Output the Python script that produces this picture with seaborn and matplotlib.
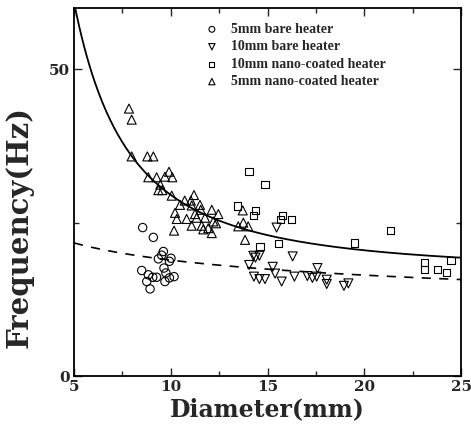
import numpy as np
import pandas as pd
import matplotlib
matplotlib.use('Agg')
import matplotlib.pyplot as plt
from matplotlib.ticker import MultipleLocator
import seaborn as sns

# 5mm bare heater (circles)
bare5_d = [8.55, 9.10, 9.62, 9.53, 9.36, 10.01, 9.93, 8.50, 8.84, 9.07,
           9.27, 9.65, 9.75, 10.17, 9.93, 8.76, 9.70, 8.93]
bare5_f = [24.2, 22.6, 20.3, 19.7, 19.1, 19.2, 18.7, 17.2, 16.5, 16.1,
           16.1, 17.6, 16.8, 16.2, 16.0, 15.4, 15.4, 14.2]

# 10mm bare heater (down triangles)
bare10_d = [15.47, 14.27, 14.38, 14.58, 16.30, 14.05, 15.27, 15.39, 14.30, 14.58,
            14.87, 15.73, 16.39, 17.06, 17.32, 17.58, 17.54, 18.06, 18.06, 18.95, 19.18]
bare10_f = [24.2, 19.6, 19.3, 19.6, 19.5, 18.1, 17.8, 16.7, 16.2, 15.8,
            15.8, 15.4, 16.2, 16.3, 16.0, 17.6, 16.2, 15.7, 15.0, 14.7, 15.1]

# 10mm nano-coated heater (squares)
nano10_d = [14.04, 14.87, 13.46, 14.39, 14.27, 15.78, 15.68, 16.25, 14.61, 15.56,
            19.50, 21.37, 23.10, 23.10, 23.80, 24.26, 24.48]
nano10_f = [33.3, 31.2, 27.7, 27.0, 26.2, 26.2, 25.5, 25.5, 21.1, 21.6,
            21.7, 23.7, 18.5, 17.4, 17.4, 16.9, 18.8]

# 5mm nano-coated heater (up triangles)
nano5_d = [7.84, 7.98, 7.98, 8.79, 9.10, 8.84, 9.27, 9.70, 9.91, 10.08,
           9.46, 9.36, 9.56, 10.05, 11.20, 10.72, 11.04, 10.48, 11.51, 11.08,
           11.55, 12.12, 10.22, 11.25, 12.46, 10.31, 10.82, 11.34, 11.77, 12.20,
           12.34, 11.08, 11.60, 11.94, 11.68, 10.17, 12.12, 13.72, 13.49, 13.75,
           14.00, 13.84]
nano5_f = [43.6, 41.8, 35.8, 35.8, 35.8, 32.4, 32.4, 32.5, 33.3, 32.4,
           31.2, 30.3, 30.3, 29.4, 29.5, 28.6, 28.6, 27.9, 27.9, 27.8,
           27.1, 27.1, 26.6, 26.4, 26.4, 25.6, 25.6, 25.8, 25.8, 25.2,
           24.9, 24.5, 24.5, 24.1, 23.9, 23.7, 23.3, 27.0, 24.4, 25.0,
           24.4, 22.2]

# fitted curves
solid_a, solid_b, solid_n = 16.86, 799.0, 1.8   # f = a + b / d^n
dash_f0, dash_n = 21.7, 0.2                     # f = f0 * (5 / d)^n

groups = [
    ('5mm bare heater', bare5_d, bare5_f, 'o', 36),
    ('10mm bare heater', bare10_d, bare10_f, 'v', 42),
    ('10mm nano-coated heater', nano10_d, nano10_f, 's', 28),
    ('5mm nano-coated heater', nano5_d, nano5_f, '^', 42),
]

sns.set_style('ticks')
fig = plt.figure(figsize=(4.71, 4.30), dpi=100)
ax = fig.add_axes([74/471, 54/430, 387/471, 368/430])

for name, d, f, m, s in groups:
    sns.scatterplot(x=d, y=f, marker=m, s=s, facecolor='none', edgecolor='black',
                    linewidth=0.8, label=name, ax=ax)

dd = np.linspace(5, 25, 300)
sns.lineplot(x=dd, y=solid_a + solid_b / dd**solid_n, color='black', lw=1.3, ax=ax)
sns.lineplot(x=dd, y=dash_f0 * (5 / dd)**dash_n, color='black', lw=1.2,
             dashes=False, ax=ax, linestyle=(0, (5.5, 5)))

ax.set_xlim(5, 25)
ax.set_ylim(0, 60)
ax.xaxis.set_major_locator(MultipleLocator(5))
ax.xaxis.set_minor_locator(MultipleLocator(2.5))
ax.yaxis.set_major_locator(MultipleLocator(50))
ax.yaxis.set_minor_locator(MultipleLocator(25))
ax.tick_params(which='both', direction='in', top=True, right=True, width=1)
ax.tick_params(which='major', length=6, pad=3)
ax.tick_params(which='minor', length=3.5)
for sp in ax.spines.values():
    sp.set_linewidth(1.3)
    sp.set_color('black')

for lab in ax.get_xticklabels() + ax.get_yticklabels():
    lab.set_fontfamily('DejaVu Serif')
    lab.set_fontweight('bold')
    lab.set_fontsize(11)

ax.set_xlabel('Diameter(mm)', fontfamily='DejaVu Serif', fontweight='bold',
              fontsize=17, labelpad=2)
ax.set_ylabel('Frequency(Hz)', fontfamily='DejaVu Serif', fontweight='bold',
              fontsize=21)
ax.yaxis.set_label_coords(-0.105, 0.405)

leg = ax.legend(loc='upper left', bbox_to_anchor=(198/471, 1 - 16/430),
                bbox_transform=fig.transFigure, frameon=False, markerscale=0.7,
                handlelength=1.0, handletextpad=0.9, labelspacing=0.32,
                borderpad=0, prop={'family': 'Liberation Serif', 'weight': 'bold', 'size': 10})

fig.savefig('out.png', dpi=100)
